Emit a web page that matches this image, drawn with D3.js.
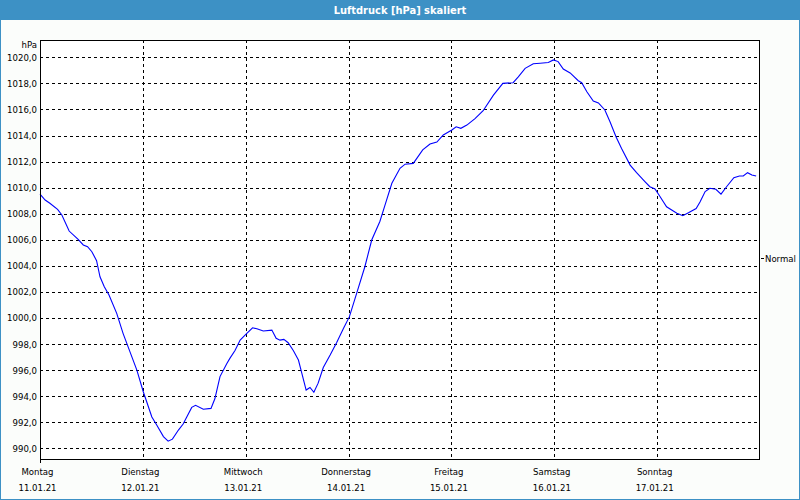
<!DOCTYPE html>
<html><head><meta charset="utf-8">
<script src="https://cdn.jsdelivr.net/npm/d3@7"></script>
<style>
html,body{margin:0;padding:0;background:#fff;}
text{font-family:"DejaVu Sans Condensed","DejaVu Sans","Liberation Sans",sans-serif;}
</style></head>
<body><svg id="c" width="800" height="500"></svg>
<script>
// hours since Monday 11.01.21 00:00
const hours = [0,1.2,2.3,4.1,5.1,6.8,8.9,10.1,11.1,12.1,13.2,14.0,15.0,16.1,17.9,19.4,21.0,22.6,24.1,26.1,27.2,28.8,29.9,30.9,32.3,33.4,35.4,36.3,38.1,39.9,40.8,42.0,43.6,44.3,45.5,46.7,48.2,49.6,50.6,52.1,54.1,55.1,56.0,56.9,57.9,59.1,60.3,61.1,62.1,63.0,63.9,64.9,66.1,67.7,69.2,70.8,72.2,73.9,75.8,77.4,79.3,80.5,82.1,84.0,85.2,87.1,89.3,91.0,92.6,94.1,96.1,97.1,98.2,99.6,101.5,103.4,105.8,108.0,110.4,111.6,113.2,115.1,116.7,118.6,119.8,120.9,122.1,123.7,125.6,126.4,127.6,129.1,130.3,131.8,133.0,134.4,135.7,137.7,139.2,141.2,142.3,143.5,144.7,146.2,147.4,148.6,150.0,151.3,153.1,154.0,155.2,156.3,157.7,158.9,160.2,161.9,163.2,164.1,165.1,166.1,167.1];
const pressure = [1009.5,1009.05,1008.8,1008.33,1007.9,1006.67,1006.03,1005.6,1005.47,1005.08,1004.4,1003.16,1002.4,1001.76,1000.35,998.8,997.4,996.0,994.34,992.4,991.8,990.9,990.55,990.7,991.4,991.86,993.14,993.3,993.0,993.06,993.8,995.5,996.5,996.9,997.5,998.3,998.8,999.25,999.17,999.0,999.07,998.44,998.3,998.36,998.1,997.5,996.77,995.75,994.47,994.67,994.3,995.0,996.2,997.15,998.1,999.2,1000.1,1001.9,1003.93,1005.98,1007.4,1008.66,1010.33,1011.48,1011.8,1011.86,1012.9,1013.35,1013.5,1014.04,1014.42,1014.67,1014.55,1014.8,1015.3,1015.9,1017.1,1018.0,1018.05,1018.5,1019.15,1019.5,1019.54,1019.6,1019.8,1019.67,1019.1,1018.8,1018.2,1018.05,1017.36,1016.65,1016.5,1015.96,1015.06,1013.9,1013.0,1011.73,1011.15,1010.45,1010.07,1009.9,1009.3,1008.53,1008.28,1008.03,1007.85,1008.07,1008.4,1008.9,1009.7,1009.95,1009.87,1009.5,1010.07,1010.76,1010.89,1010.89,1011.15,1010.97,1010.89];
const dayNames = ["Montag","Dienstag","Mittwoch","Donnerstag","Freitag","Samstag","Sonntag"];
const dayDates = ["11.01.21","12.01.21","13.01.21","14.01.21","15.01.21","16.01.21","17.01.21"];
const yTicks = [990,992,994,996,998,1000,1002,1004,1006,1008,1010,1012,1014,1016,1018,1020];
const normalValue = 1004.6;
const title = "Luftdruck [hPa] skaliert";
const unit = "hPa";

const W = 800, H = 500;
const L = 40, R = 760, T = 40, B = 460;
const svg = d3.select("#c");

// background & frame
svg.append("rect").attr("x",0).attr("y",0).attr("width",W).attr("height",H).attr("fill","#3d91c5");
svg.append("rect").attr("x",1).attr("y",20).attr("width",W-2).attr("height",H-21).attr("fill","#fbfdfb");
svg.append("text").attr("x",W/2).attr("y",14).attr("text-anchor","middle")
  .attr("fill","#fff").attr("font-size","11px").attr("font-weight","bold").text(title);

const x = d3.scaleLinear().domain([0,168]).range([L,R]);
const y = d3.scaleLinear().domain([990,1020]).range([448.3,57.3]);

svg.append("rect").attr("x",L).attr("y",T).attr("width",R-L).attr("height",B-T).attr("fill","#fff");

// horizontal grid
svg.append("g").selectAll("line").data(yTicks).join("line")
  .attr("x1",L).attr("x2",R)
  .attr("y1",d=>Math.round(y(d))+0.5).attr("y2",d=>Math.round(y(d))+0.5)
  .attr("stroke","#000").attr("stroke-width",1).attr("stroke-dasharray","3,3").attr("shape-rendering","crispEdges");
// vertical grid
const dayIdx = d3.range(1,7);
svg.append("g").selectAll("line").data(dayIdx).join("line")
  .attr("x1",d=>Math.round(x(d*24))+0.5).attr("x2",d=>Math.round(x(d*24))+0.5)
  .attr("y1",T).attr("y2",B)
  .attr("stroke","#000").attr("stroke-width",1).attr("stroke-dasharray","3,3").attr("shape-rendering","crispEdges");

// y labels
const fs = "9.5px";
svg.append("g").selectAll("text").data(yTicks).join("text")
  .attr("x",37).attr("y",d=>y(d)+3.5).attr("text-anchor","end").attr("font-size",fs).attr("fill","#000")
  .text(d=>d3.format(".1f")(d).replace(".",","));
svg.append("text").attr("x",37).attr("y",T+8).attr("text-anchor","end").attr("font-size",fs).attr("fill","#000").text(unit);

// x labels
const xl = svg.append("g").selectAll("g").data(d3.range(7)).join("g")
  .attr("transform",d=>`translate(${x(d*24)-2.5},0)`);
xl.append("text").attr("y",475).attr("text-anchor","middle").attr("font-size",fs).attr("fill","#000").text(d=>dayNames[d]);
xl.append("text").attr("y",491).attr("text-anchor","middle").attr("font-size",fs).attr("fill","#000").text(d=>dayDates[d]);

// line
const line = d3.line().x((d,i)=>x(hours[i])).y(d=>y(d));
svg.append("path").datum(pressure).attr("d",line).attr("fill","none").attr("stroke","#0000ff").attr("stroke-width",1.1);

// plot frame
svg.append("rect").attr("x",L+0.5).attr("y",T+0.5).attr("width",R-L-1).attr("height",B-T-1)
  .attr("fill","none").attr("stroke","#000").attr("stroke-width",1).attr("shape-rendering","crispEdges");
svg.append("line").attr("x1",L+0.5).attr("x2",L+0.5).attr("y1",B).attr("y2",B+3).attr("stroke","#000").attr("shape-rendering","crispEdges");

// Normal marker
const yn = Math.round(y(normalValue))+0.5;
svg.append("line").attr("x1",R+1).attr("x2",R+4).attr("y1",yn).attr("y2",yn).attr("stroke","#000").attr("shape-rendering","crispEdges");
svg.append("text").attr("x",R+5).attr("y",yn+3.5).attr("font-size",fs).attr("fill","#000").text("Normal");
</script></body></html>
